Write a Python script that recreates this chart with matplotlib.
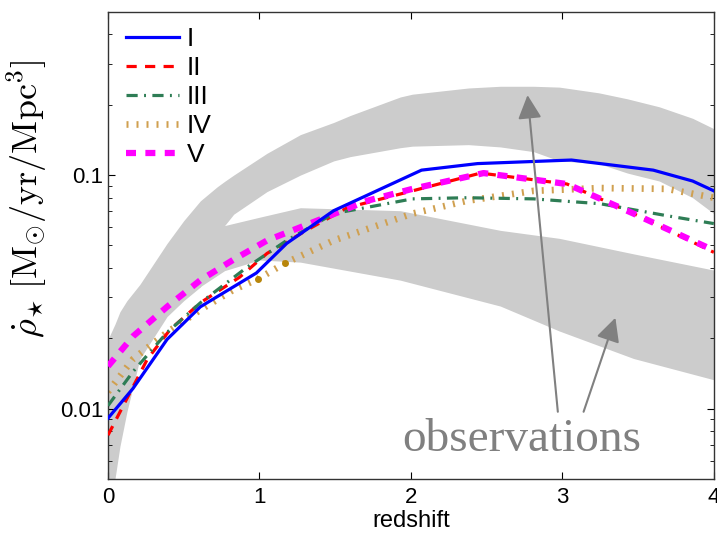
import matplotlib
matplotlib.use('Agg')
import matplotlib.pyplot as plt
import numpy as np

plt.rcParams['font.family'] = ['Liberation Sans', 'DejaVu Sans']
plt.rcParams['mathtext.fontset'] = 'cm'

# observational bands (redshift, lower, upper)
bandA_z = [0.0, 0.046, 0.079, 0.125, 0.21, 0.39, 0.5, 0.61, 0.72, 0.77, 0.83, 1.05, 1.27, 1.49, 1.6,
           1.93, 2.01, 2.38, 2.59, 2.81, 2.98, 3.24, 3.43, 3.64, 3.86, 4.0]
bandA_lo = [0.003, 0.005, 0.0069, 0.0097, 0.0163, 0.0248, 0.029, 0.0332, 0.045, 0.0608, 0.068,
            0.085, 0.10, 0.115, 0.12, 0.131, 0.133, 0.135, 0.132, 0.126, 0.115, 0.112, 0.102,
            0.0943, 0.080, 0.0684]
bandA_hi = [0.0198, 0.023, 0.026, 0.029, 0.034, 0.051, 0.0638, 0.0776, 0.089, 0.094, 0.10, 0.124,
            0.149, 0.168, 0.18, 0.216, 0.222, 0.236, 0.240, 0.240, 0.238, 0.225, 0.212, 0.196,
            0.175, 0.158]

bandB_z = [0.6, 0.77, 1.0, 1.27, 1.93, 2.59, 2.98, 3.47, 4.0]
bandB_lo = [0.033, 0.039, 0.0433, 0.0424, 0.0355, 0.0275, 0.0215, 0.0164, 0.0133]
bandB_hi = [0.045, 0.0608, 0.066, 0.0725, 0.0704, 0.058, 0.0536, 0.046, 0.0392]

# star formation rate density for the five runs
z_I = [0, 0.165, 0.39, 0.61, 0.98, 1.18, 1.49, 2.07, 2.44, 3.06, 3.6, 3.86, 4.0]
sfr_I = [0.0091, 0.0122, 0.0198, 0.0273, 0.0381, 0.051, 0.0704, 0.105, 0.112, 0.116, 0.105, 0.0943, 0.0856]

z_II = [0, 0.08, 0.26, 0.41, 0.61, 0.87, 1.05, 1.31, 1.58, 2.01, 2.46, 3.03, 3.47, 4.0]
sfr_II = [0.0077, 0.0097, 0.0163, 0.0218, 0.0284, 0.0366, 0.0462, 0.058, 0.0725, 0.0856, 0.102,
          0.0916, 0.0684, 0.0467]

z_III = [0, 0.165, 0.39, 0.61, 0.92, 1.18, 1.49, 2.01, 2.37, 2.81, 3.25, 3.69, 4.0]
sfr_III = [0.0103, 0.0144, 0.0212, 0.0284, 0.0404, 0.0525, 0.0684, 0.0791, 0.080, 0.0791, 0.0754,
           0.067, 0.062]

z_IV = [0, 0.165, 0.39, 0.61, 0.825, 0.99, 1.17, 1.49, 2.01, 2.37, 2.81, 3.25, 3.69, 4.0]
sfr_IV = [0.0118, 0.0163, 0.0212, 0.0265, 0.0322, 0.0359, 0.042, 0.0525, 0.0684, 0.0776, 0.0856,
          0.088, 0.0873, 0.080]
dots_IV = [5, 6]

z_V = [0, 0.165, 0.39, 0.61, 0.825, 1.05, 1.38, 1.71, 2.01, 2.48, 3.03, 3.47, 4.0]
sfr_V = [0.0152, 0.0204, 0.0273, 0.0355, 0.0433, 0.0525, 0.0638, 0.0776, 0.0873, 0.102, 0.0916,
         0.0684, 0.0476]

fig = plt.figure(figsize=(7.17, 5.37), dpi=100)
ax = fig.add_axes([0.1506, 0.108, 0.845, 0.870])

band_col = '#cccccc'
ax.fill_between(bandA_z, bandA_lo, bandA_hi, color=band_col, lw=0, zorder=1)
ax.fill_between(bandB_z, bandB_lo, bandB_hi, color=band_col, lw=0, zorder=1)

ax.plot(z_I, sfr_I, color='#0000ff', lw=2.3, label='I', zorder=5)
ax.plot(z_II, sfr_II, color='#ff0000', lw=2.3, ls=(0, (3.2, 2.6)), label='II', zorder=3)
ax.plot(z_III, sfr_III, color='#2e7d55', lw=2.3, ls=(0, (3.5, 2.0, 0.6, 2.0)), label='III', zorder=3)
ax.plot(z_IV, sfr_IV, color='#d0a050', lw=4.8, ls=(0, (0.3, 1.2)), label='IV', zorder=2)
ax.plot(np.array(z_IV)[dots_IV], np.array(sfr_IV)[dots_IV], 'o', color='#b8860b', ms=4, zorder=2)
ax.plot(z_V, sfr_V, color='#ff00ff', lw=4.5, ls=(0, (1.6, 1.5)), label='V', zorder=4)

ax.set_yscale('log')
ax.set_xlim(0, 4)
ax.set_ylim(0.005, 0.5)
ax.set_xticks([0, 1, 2, 3, 4])
ax.set_yticks([0.01, 0.1])
ax.set_yticklabels(['0.01', '0.1'])
ax.tick_params(which='both', direction='in', top=True, right=True, labelsize=16)
ax.tick_params(axis='x', pad=6)
ax.tick_params(which='major', length=5, width=0.8)
ax.tick_params(which='minor', length=3, width=0.6)
ax.tick_params(axis='x', which='minor', bottom=False, top=False)
for s in ax.spines.values():
    s.set_linewidth(1.0)
    s.set_color('#333333')

ax.set_xlabel('redshift', fontsize=17, labelpad=1)
ax.set_ylabel(r'$\dot{\rho}_{\star}\;[\mathrm{M}_{\odot}/\mathrm{yr}/\mathrm{Mpc}^{3}]$', fontsize=26)
ax.yaxis.set_label_coords(-0.097, 0.6)

leg = ax.legend(loc='upper left', bbox_to_anchor=(0.013, 0.99), frameon=False, fontsize=19,
                handlelength=2.0, labelspacing=0.19, handletextpad=0.3, borderaxespad=0.0)

# pointer arrows to the two bands
arrow_kw = dict(arrowstyle='-|>,head_length=0.4,head_width=0.2', color='#808080', lw=1.5,
                mutation_scale=36, shrinkA=0, shrinkB=0)
ax.annotate('', xy=(2.77, 0.22), xytext=(2.97, 0.0097), arrowprops=arrow_kw, zorder=6)
ax.annotate('', xy=(3.35, 0.0245), xytext=(3.14, 0.0097), arrowprops=arrow_kw, zorder=6)
ax.text(2.73, 0.00658, 'observations', family='Liberation Serif', fontsize=34, color='#808080',
        ha='center', va='baseline', zorder=6)

fig.savefig('out.png', dpi=100)
